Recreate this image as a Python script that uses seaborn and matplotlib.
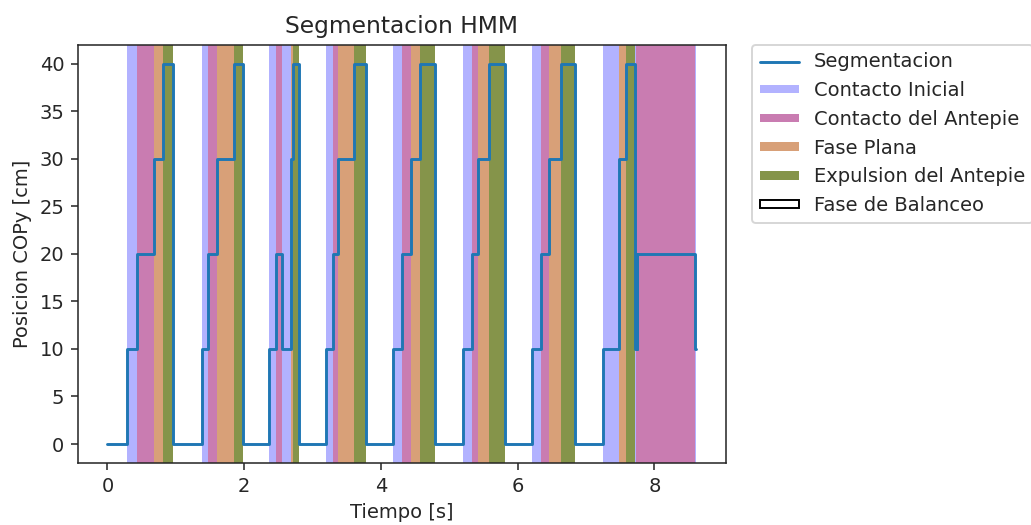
import pandas as pd
import matplotlib
matplotlib.use("Agg")
import matplotlib.pyplot as plt
from matplotlib.lines import Line2D
from matplotlib.patches import Patch
import seaborn as sns

# segment start times [s] and the state (COPy level) of each segment
seg_start = [0.0, 0.281, 0.428, 0.681, 0.818, 0.955,
             1.380, 1.477, 1.600, 1.854, 1.975,
             2.365, 2.465, 2.553, 2.689, 2.708, 2.796,
             3.198, 3.294, 3.368, 3.602, 3.788,
             4.179, 4.311, 4.433, 4.565, 4.785,
             5.199, 5.327, 5.419, 5.580, 5.810,
             6.216, 6.338, 6.460, 6.631, 6.836,
             7.251, 7.477, 7.584, 7.716, 7.728, 7.738, 7.750, 8.595]
seg_level = [0, 10, 20, 30, 40, 0,
             10, 20, 30, 40, 0,
             10, 20, 10, 30, 40, 0,
             10, 20, 30, 40, 0,
             10, 20, 30, 40, 0,
             10, 20, 30, 40, 0,
             10, 20, 30, 40, 0,
             10, 30, 40, 10, 20, 10, 20, 10]
t_end = 8.615

phase_names = ["Contacto Inicial", "Contacto del Antepie", "Fase Plana",
               "Expulsion del Antepie", "Fase de Balanceo"]
phase_levels = [10, 20, 30, 40, 0]
phase_colors = ["#b2b2ff", "#c97cb1", "#d8a078", "#85944a", "white"]

df = pd.DataFrame({"t": seg_start + [t_end], "pos": seg_level + [seg_level[-1]]})

sns.set_style("ticks")
plt.rcParams["font.family"] = ["DejaVu Sans"]

fig = plt.figure(figsize=(1031 / 140, 525 / 140), dpi=140)
ax = fig.add_axes([0.0757, 0.118, 0.6284, 0.797])

color_of = dict(zip(phase_levels, phase_colors))
ends = seg_start[1:] + [t_end]
for start, end, lvl in zip(seg_start, ends, seg_level):
    if lvl != 0:
        ax.axvspan(start, end, color=color_of[lvl], lw=0, zorder=1)

sns.lineplot(data=df, x="t", y="pos", drawstyle="steps-post", color="#1f77b4",
             lw=1.5, estimator=None, sort=False, ax=ax, zorder=3)
ax.margins(x=0.05, y=0.05)

ax.set_title("Segmentacion HMM", fontsize=12)
ax.set_xlabel("Tiempo [s]")
ax.set_ylabel("Posicion COPy [cm]")
ax.set_yticks(range(0, 41, 5))
ax.set_xticks(range(0, 9, 2))
for s in ["top", "right"]:
    ax.spines[s].set_visible(True)

handles = [Line2D([0], [0], color="#1f77b4", lw=1.5, label="Segmentacion")]
for name, col in zip(phase_names, phase_colors):
    if col == "white":
        handles.append(Patch(facecolor="white", edgecolor="black", lw=1, label=name))
    else:
        handles.append(Patch(facecolor=col, edgecolor="none", label=name))
ax.legend(handles=handles, loc="upper left", bbox_to_anchor=(1.04, 1.0),
          handleheight=0.3, borderaxespad=0.0, frameon=True)

fig.savefig("out.png", dpi=140)
